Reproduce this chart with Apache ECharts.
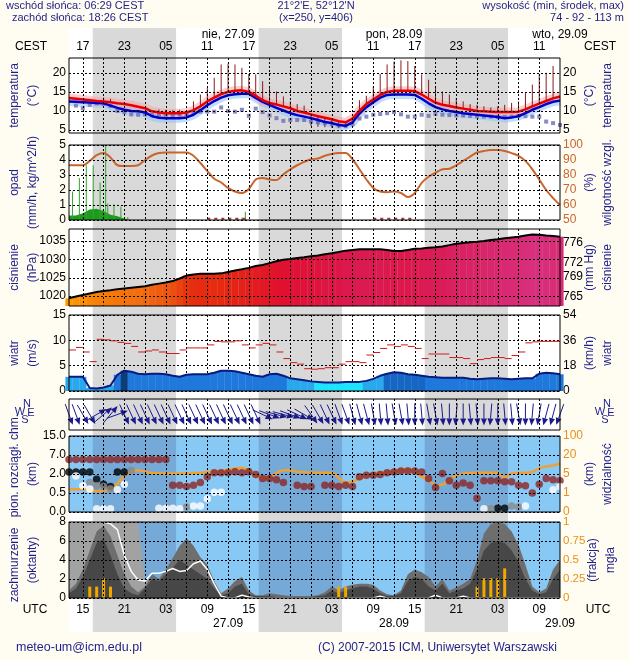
<!DOCTYPE html>
<html><head><meta charset="utf-8">
<script src="https://cdn.jsdelivr.net/npm/echarts@6/dist/echarts.min.js"></script>
<style>html,body{margin:0;padding:0;background:#FFFDF2;}#c{width:630px;height:660px;}</style>
</head><body><div id="c"></div>
<script>
// ---------------- DATA ----------------
const hours = [13,14,15,16,17,18,19,20,21,22,23,24,25,26,27,28,29,30,31,32,33,34,35,36,37,38,39,40,41,42,43,44,45,46,47,48,49,50,51,52,53,54,55,56,57,58,59,60,61,62,63,64,65,66,67,68,69,70,71,72,73,74,75,76,77,78,79,80,81,82,83,84];
const gridHours = [15,18,21,24,27,30,33,36,39,42,45,48,51,54,57,60,63,66,69,72,75,78,81];
const labelHours = [15,21,27,33,39,45,51,57,63,69,75,81];
const dateHours = [36,60,84];
const datesTop = ['nie, 27.09','pon, 28.09','wto, 29.09'];
const datesBottom = ['27.09','28.09','29.09'];
const sunriseCEST = 6 + 29/60, sunsetCEST = 18 + 26/60, cestOffset = 2;

const tempRed = [13.4,13.2,13.0,12.8,12.6,12.5,12.3,12.0,11.8,11.5,11.1,10.7, 9.9,9.6,9.4,9.4,9.4,9.6,10.2,11.2,12.5,13.5,14.4,15.0, 15.3,15.4,15.0,14.0,12.8,12.1,11.7,11.2,10.7,10.0,9.6,9.1, 8.6,8.2,7.8,7.3,7.0,8.0,10.0,11.8,13.0,14.2,15.0,15.3, 15.3,15.3,15.2,14.3,13.2,12.2,11.6,11.3,10.9,10.6,10.3,10.0, 9.9,9.8,9.7,9.7,9.7,9.8,10.4,11.2,11.9,12.6,13.3,13.8];
const tempBlue = [12.5,12.4,12.3,12.2,12.1,12.0,11.4,10.8,10.3,10.0,9.9,9.6, 8.6,8.2,8.1,8.1,8.1,8.3,9.0,10.2,11.5,12.6,13.5,14.1, 14.4,14.5,14.5,13.4,12.4,11.6,10.8,10.1,9.4,8.9,8.5,8.1, 7.6,7.1,6.8,6.3,6.1,7.0,9.3,11.0,12.3,13.5,14.2,14.3, 14.3,14.3,14.2,13.2,12.0,11.0,10.4,10.0,9.7,9.4,9.2,9.0, 8.8,8.6,8.4,8.1,8.3,8.6,9.4,10.3,11.0,11.8,12.4,12.7];
const dewPoint = [null,11.4,10.7,11.6,12.0,11.9,11.3,10.0,9.7,9.1,9.0,9.1, 9.0,9.0,9.0,8.8,9.0,9.1,9.7,9.8,9.8,9.8,10.9,10.0, 9.8,10.3,8.7,10.6,9.7,8.8,8.1,7.4,7.6,7.6,7.6,7.2, 7.0,6.8,6.6,6.2,6.0,6.5,8.0,8.5,9.0,9.2,9.4,9.7, 9.1,8.5,8.5,9.0,8.7,9.2,9.0,8.9,8.8,8.8,8.7,8.6, 8.5,8.5,8.4,8.4,8.5,8.7,8.6,8.5,8.5,7.2,6.8,6.3];
const stickHours = [18,19,26,27,28,29,31,32,33,34,35,36,37,38,39,40,41,42,43,44,45,46,47,48,49,50,51,52,53,55,56,57,58,59,60,61,62,63,64,65,66,67,68,69,70,71,72,73,74,75,76,77,78,79,80,81,82,83];
const stickLow  = [12.5,12.3,9.6,9.4,9.4,9.4,10.2,11.2,12.5,13.5,14.4,15.0,15.3,15.4,15.0,14.0,12.8,12.1,11.7,11.2,10.7,10.0,9.6,6.0,5.8,5.7,5.6,5.5,5.6,10.0,11.8,13.0,14.2,15.0,15.3,15.3,15.3,15.2,14.3,13.2,12.2,11.6,11.3,10.9,10.6,10.3,10.0,9.9,9.8,9.7,9.7,9.7,9.8,10.4,11.2,11.9,12.6,13.3];
const stickHigh = [13.5,13.2,10.4,10.3,10.2,10.3,12.5,14.3,16.0,18.7,22.2,22.4,22.2,21.3,19.7,19.6,17.8,16.0,15.1,13.8,12.5,11.8,11.4,9.1,8.6,8.2,7.8,7.3,7.0,12.8,14.0,16.5,19.7,22.2,23.0,23.3,23.1,21.8,19.6,18.2,16.5,15.1,14.3,13.4,12.5,11.8,11.6,11.2,10.9,11.2,11.6,12.1,12.5,14.7,16.9,19.6,20.0,21.8];

const humidity = [86.5,86.5,86.5,89.4,93.2,94.6,91.7,86.5,86,86,86.5,90, 93,94.6,95,95,95,95,92.8,88,82.6,77.5,75,71.4, 69,68,70.7,77,78,77,76.6,80.4,83.8,86.5,88.7,90.5, 91,92.8,94,94.6,94.6,90.5,83.8,77,71.4,69,68.5,69, 68,65.3,68,74.8,78.8,81.5,83.8,84.2,86.5,89.4,92.3,95, 96,96.6,96.6,96,94.6,92.8,89.4,83.8,77,70,64.6,60];
const precipMaxHours = [13.5,14.5,15.5,16.5,17.5,18.3,18.6,19.5,20.5,21.5,38.0,38.5];
const precipMax = [1.9,2.8,3.65,3.65,2.5,5.0,1.1,1.05,0.9,0.2,0.15,0.55];
const precipMeanHours = [13,14,15,16,17,18,19,20,21,22];
const precipMean = [0.3,0.3,0.45,0.7,0.75,0.6,0.35,0.25,0.1,0];
const traceHours = [33,38.5,null,57,63];
const traceValue = [0.08,0.08,null,0.08,0.08];

const pressure = [1019.4,1019.9,1020.3,1020.7,1021.1,1021.4,1021.6,1021.9,1022.1,1022.3,1022.5,1022.7, 1023.1,1023.4,1023.7,1024.1,1024.8,1025.6,1025.9,1026.1,1026.1,1026.1,1026.2,1026.6, 1027.0,1027.3,1027.7,1028.2,1028.5,1029.0,1029.5,1029.9,1030.1,1030.4,1030.6,1030.9, 1031.1,1031.4,1031.7,1032.0,1032.4,1032.6,1032.8,1032.8,1032.8,1032.8,1032.6,1032.3, 1032.3,1032.6,1032.9,1033.0,1033.2,1033.3,1033.5,1033.9,1034.3,1034.5,1034.7,1034.8, 1035.0,1035.3,1035.5,1035.8,1036.0,1036.2,1036.5,1036.8,1036.7,1036.5,1036.4,1036.2];
const pressureTicks = [1020,1025,1030,1035];
const mmHgTicks = [765,769,772,776];

const windSpeed = [2.8,2.8,2.8,0.6,0.5,0.7,1.1,3.2,4.0,3.8,3.4,3.3, 3.4,3.4,3.3,3.0,2.8,3.2,3.3,3.3,3.3,3.6,4.0,4.0, 3.9,3.6,3.3,3.0,2.8,3.3,3.4,3.0,2.5,2.3,2.1,1.9, 1.8,1.7,1.7,1.7,1.8,1.8,1.8,2.0,2.4,3.0,3.4,3.7, 3.6,3.3,3.2,3.0,2.8,2.7,2.6,2.6,2.6,2.6,2.4,2.3, 2.4,2.5,2.5,2.4,2.3,2.4,2.5,2.5,3.4,3.6,3.5,3.3];
const windClass = [0,0,0,0,0,0,0,1,3,1,1,1, 1,1,1,1,1,1,1,1,1,1,1,1, 1,1,1,1,1,1,1,1,0,0,0,0, 2,2,2,2,2,2,2,0,0,0,4,4, 4,4,4,4,1,1,1,1,1,1,1,1, 1,1,1,1,1,1,1,1,1,1,1,1];
const windGust = [8.1,8.6,7.7,5.8,10.2,10.1,9.9,9.6,9.4,8.8,7.7,7.9, 8.1,7.7,7.4,7.4,8.1,8.5,8.5,8.5,9.1,9.8,9.7,9.7, 9.9,9.1,8.5,9.1,9.4,9.1,7.7,6.4,5.6,5.3,4.4,4.3, 4.4,4.6,4.6,5.3,5.8,5.8,5.6,7.1,7.6,8.4,9.1,8.8, 9.1,8.8,8.4,6.4,7.3,7.3,7.3,6.6,6.6,6.4,5.4,6.2, 6.4,6.6,6.6,6.4,7.0,7.7,9.5,9.7,9.8,9.8,9.8,null];
const windDirFrom = [340,340,330,330,240,230,220,250, 335,335,335,335,335,335,335,335,335,335,335,335,335,335,335,335,335,335,335,335, 295,290,285,285,290,295,300, 325,330,335,335,340,340,345,345,345, 350,355,355,350,350,355,0,355,350,350,355,0,5,0,355,355,0,5,0,355,355,350,0,5,10,15,15,20];

const visTicks = [0,1,5,20,100];
const baseTicks = [0,0.5,2,7,15];
const visibility = [1.8,1.8,1.8,1.7,1.3,1.5,1.8,3.0,4.6,7.3,8.0,6.8, 5.8,5.45,5.45,5.45,5.45,5.45,5.8,6.0,6.5,6.8,7.3,8.3, 9.2,10,8,4.7,4.1,4.2,5.8,8,8,6.8,6.5,6, 6,6,6,4.2,3.2,3.4,4.0,4.5,5,6.5,6.5,7.3, 8.8,9.2,6.8,4.4,3.8,2.6,2.8,3.7,4.7,5.3,5.8,6, 6,6,6,4.2,5.45,5.8,6,6.5,9.5,11,11.8,13.3];
const cloudBase = [5.8,5.8,5.8,5.8,5.8,5.8,5.8,5.8,5.8,5.8,5.8,5.8,5.8,5.8,5.8, 1.12,1.12,1.01,1.12,1.33,1.79,2.35,2.35,2.35,2.6,2.35,2.6, 1.97,1.64,1.64,1.54,1.33,null,1.12,1.01,1.01,null,1.12,1.12, 1.01,1.12,1.01,1.79,1.9,1.9,1.97,2.35,2.5,2.8,2.8,2.8, 2.5,1.64,0.94,2.15,1.46,1.12,1.28,1.12,0.36,1.46,1.46,1.46, 1.39,1.39,1.12,1.07,0.5,1.2,1.64,1.54,1.46];
const lowBlackHours = [13,14,15,16,17,18,19,20,21,75,76];
const lowBlack = [2.5,2.5,2.5,2.5,1.58,1.2,1.01,2.5,2.5,0.1,0.1];
const lowGrayHours = [16,17,18,19,22,30,74,77,78];
const lowGray = [1.33,1.07,1.01,0.82,2.95,0.13,0.085,0.155,0.13];
const lowWhiteHours = [14,15,16,17,18,19,20,21,26,27,28,29,31,32,33,34,35,73,79,83,84];
const lowWhite = [1.85,1.07,0.82,0.085,0.085,0.085,0.76,1.2,0.1,0.1,0.1,0.085,0.155,0.155,0.35,0.55,0.55,0.085,0.155,0.76,1.01];

const cloudHigh = [8,8,8,8,8,8,8,8,8,8,8,2, 1,0,0,0,0,0,0,0,0,0,0,0, 0,0,0,0,0,0,0,0,0,0,0,0, 0,0,0,0,0,0,0,0,0,0,0,0, 0,0,0,0,0,0,0,0,0,0,0,0, 0,0,0,0,0,0,0,0,0,0,0,0];
const cloudMid = [0.8,1.5,3.0,5.0,7.0,7.6,6.5,4.5,2.5,1.2,0.6,1.2, 2.5,2.0,3.0,4.2,5.5,6.3,5.5,4.3,3.5,1.8,0.5,1.0, 1.8,2.2,0.8,0.3,0.3,0.5,0.4,0.3,0.2,0.2,0.2,0.2, 0.3,0.6,1.2,0.8,1.2,1.4,1.5,1.5,1.4,0.8,0.4,0.3, 0.8,2.5,3.0,2.7,2.2,1.2,2.0,0.8,1.1,1.5,2.0,4.0, 6.8,7.8,8.0,7.8,7.0,5.6,3.5,1.2,0.6,1.0,3.0,4.0];
const cloudLow = [0.5,1.0,2.2,4.0,5.8,6.2,4.5,2.5,1.0,0.5,0.3,1.0, 2.0,1.8,2.5,3.2,4.0,3.5,3.0,2.5,2.0,1.0,0.3,0.5, 1.2,1.5,0.4,0.2,0.2,0.2,0.1,0.1,0.1,0.1,0.1,0.1, 0.2,0.3,0.8,0.5,0.8,1.0,1.2,1.2,1.0,0.5,0.2,0.2, 0.5,1.8,2.2,2.0,1.2,0.8,1.5,0.5,0.8,1.0,1.5,3.0, 5.0,5.8,6.0,5.8,5.0,3.8,2.0,0.8,0.4,0.6,2.0,3.0];
const cloudLine = [8,8,8,8,8,8,7.8,7.2,4.5,2.8,1.9,1.8, 2.6,2.6,2.8,3.1,2.8,2.9,3.6,3.9,3.0,1.5,0.2,0, 0,0.3,0.1,0,0,0,0,0,0,0,0,0, 0,0,0,0,0,0,0,0,0,0.2,0,0, 0,0,0,0,0,0.3,0,0,0,0.2,0,0, 0,0,0,0,0,0,0,0,0,0,0,0];
const fogHours = [16,17,18,19,52,53,72,73,74,75,76];
const fogFrac = [0.15,0.15,0.26,0.15,0.15,0.15,0.15,0.26,0.26,0.26,0.39];

// ---------------- CHART ----------------
const FONT = "'Liberation Sans', Arial, sans-serif";
const NAVY = '#1E1E8C';
const DOT = {color:'#000', type:[2,2], width:1};
const T0 = 13, T1 = 84;
const X = 69, W = 491;
const nights = [0,1,2].map(k => [sunsetCEST - cestOffset + 24*k, sunriseCEST - cestOffset + 24*(k+1)]);
const pad = n => { n = ((Math.round(n)%24)+24)%24; return (n<10?'0':'')+n; };
const zip = (a,b) => a.map((v,i)=>[v,b[i]]);
const H = arr => hours.map((h,i)=>[h, arr[i]]);
function toLevel(v, ticks){
  if (v == null) return null;
  for (let i=1;i<ticks.length;i++){ if (v <= ticks[i]) return (i-1) + (v-ticks[i-1])/(ticks[i]-ticks[i-1]); }
  return ticks.length-1;
}

const panels = [
  {top:58, h:75}, {top:145, h:75}, {top:229, h:77}, {top:315, h:76},
  {top:399, h:31}, {top:436, h:76}, {top:522, h:76}
];
const grids = [{left:X, top:28, width:W, height:604, show:true, backgroundColor:'#fff', borderWidth:0, z:0, outerBoundsMode:'none', containLabel:false}];
panels.forEach(p => grids.push({left:X, top:p.top, width:W, height:p.h, show:true, backgroundColor:'transparent', borderColor:'#000', borderWidth:1, z:20, outerBoundsMode:'none', containLabel:false}));

function mkX(grid, extra){
  return Object.assign({gridIndex:grid, type:'value', min:T0, max:T1, axisLine:{show:false},
    axisTick:{show:false, customValues:gridHours}, axisLabel:{show:false},
    splitLine:{show:true, lineStyle:DOT}, z:9}, extra||{});
}
const lbl = (o) => Object.assign({color:'#000', fontSize:12, fontFamily:FONT}, o);
const xAxes = [{gridIndex:0, type:'value', min:T0, max:T1, show:false}];
for (let g=1; g<=7; g++){
  const ax = mkX(g, g===4 ? {z:2} : {});
  if (g===1){ ax.position='top'; ax.axisLabel = lbl({show:true, customValues:labelHours, formatter:v=>pad(v+cestOffset), margin:5}); }
  if (g===7){ ax.position='bottom'; ax.axisLabel = lbl({show:true, customValues:labelHours, formatter:v=>pad(v), margin:6}); }
  xAxes.push(ax);
}
xAxes.push({gridIndex:1, type:'value', min:T0, max:T1, position:'top', offset:12, axisLine:{show:false}, axisTick:{show:false, customValues:dateHours}, splitLine:{show:false},
  axisLabel:lbl({customValues:dateHours, formatter:(v)=>datesTop[dateHours.indexOf(v)], margin:5})});
xAxes.push({gridIndex:7, type:'value', min:T0, max:T1, position:'bottom', offset:14, axisLine:{show:false}, axisTick:{show:false, customValues:dateHours}, splitLine:{show:false},
  axisLabel:lbl({customValues:dateHours, formatter:(v)=>datesBottom[dateHours.indexOf(v)], margin:6})});

const yAxes = [{gridIndex:0, min:0, max:1, show:false}];
function mkY(grid, pos, min, max, ticks, o){
  o = o||{};
  yAxes.push({gridIndex:grid, type:'value', position:pos, min, max, axisLine:{show:false},
    axisTick:{show:false, customValues:ticks},
    axisLabel:lbl({show:!o.noLabel, customValues:ticks, formatter:o.fmt || (v=>String(v)), color:o.color||'#000', margin:3, fontSize:o.fs||12}),
    splitLine:{show:!!o.split, lineStyle:DOT},
    name:o.name||'', nameLocation:'middle', nameRotate:90, nameGap: o.gap || (pos==='left'?27:21), nameMoveOverlap:false,
    nameTextStyle:{color:NAVY, fontSize:12, fontFamily:FONT, lineHeight:18},
    z:o.z!=null?o.z:9});
  return yAxes.length-1;
}
const yT = mkY(1,'left',4.2,23.9,[5,10,15,20],{split:true,name:'temperatura\n(°C)'});
mkY(1,'right',4.2,23.9,[5,10,15,20],{name:'(°C)\ntemperatura'});
const yP = mkY(2,'left',0,5,[0,1,2,3,4,5],{split:true,name:'opad\n(mm/h, kg/m^2/h)'});
const yHum = mkY(2,'right',50,100,[50,60,70,80,90,100],{color:'#C8642D',name:'(%)\nwilgotność wzgl.'});
const yPr = mkY(3,'left',1017.3,1038.3,pressureTicks,{split:true,name:'ciśnienie\n(hPa)'});
mkY(3,'right',1017.3,1038.3,mmHgTicks.map(m=>m/0.750062),{fmt:v=>String(Math.round(v*0.750062)),name:'(mm Hg)\nciśnienie'});
const yW = mkY(4,'left',0,15,[0,5,10,15],{split:true,name:'wiatr\n(m/s)',z:2});
mkY(4,'right',0,15,[0,5,10,15],{fmt:v=>String(Math.round(v*3.6)),name:'(km/h)\nwiatr',z:2});
const yD = mkY(5,'left',0,1,[],{noLabel:true});
mkY(5,'right',0,1,[],{noLabel:true});
const yV = mkY(6,'left',0,4,[0,1,2,3,4],{split:true,fmt:v=>baseTicks[v].toFixed(1),name:'     pion. rozciągł. chm.\n(km)'});
mkY(6,'right',0,4,[0,1,2,3,4],{fmt:v=>String(visTicks[v]),color:'#E8901A',name:'(km)\nwidzialność'});
const yC = mkY(7,'left',0,8,[0,2,4,6,8],{split:true,name:'zachmurzenie   \n(oktanty)'});
const yFog = mkY(7,'right',0,1,[0,0.25,0.5,0.75,1],{color:'#E8901A',fs:11.5,gap:24,name:'(frakcja)\nmgła'});

// series
const series = [];
function add(s){ series.push(s); return series.length-1; }
function bandSeries(xi, yi, data, colors, z){
  return {type:'custom', xAxisIndex:xi, yAxisIndex:yi, z, silent:true, clip:true, data,
    renderItem:(params, api)=>{
      const a = api.coord([api.value(0),0]), b = api.coord([api.value(1),0]);
      const cs = params.coordSys;
      return {type:'rect', shape:{x:a[0], y:cs.y, width:b[0]-a[0], height:cs.height}, style:{fill:colors[api.value(2)]}};
    }};
}
add(bandSeries(0,0,nights.map(n=>[n[0],n[1],0]),['#D9D9D9'],1));
const blueBg = [[T0,T1,0]].concat(nights.map(n=>[n[0],n[1],1]));
add(bandSeries(6,yV,blueBg,['#88C8F4','#74A9D8'],2));
add(bandSeries(7,yC,blueBg,['#88C8F4','#74A9D8'],2));

// temperature
add({type:'line', xAxisIndex:1, yAxisIndex:yT, data:H(tempBlue), symbol:'none', lineStyle:{color:'rgba(140,195,255,0.55)', width:9}, z:3});
add({type:'line', xAxisIndex:1, yAxisIndex:yT, data:H(tempRed), symbol:'none', lineStyle:{color:'rgba(255,160,160,0.5)', width:9}, z:3});
add({type:'custom', xAxisIndex:1, yAxisIndex:yT, z:4, data:stickHours.map((h,i)=>[h,stickLow[i],stickHigh[i]]),
  encode:{x:0,y:[1,2]},
  renderItem:(params, api)=>{ const a=api.coord([api.value(0),api.value(1)]), b=api.coord([api.value(0),api.value(2)]);
    return {type:'line', shape:{x1:a[0],y1:a[1],x2:b[0],y2:b[1]}, style:{stroke:'#8B1A1A', lineWidth:1}}; }});
add({type:'scatter', xAxisIndex:1, yAxisIndex:yT, data:H(dewPoint), symbol:'rect', symbolSize:4, itemStyle:{color:'#6B6BB5'}, z:5});
add({type:'line', xAxisIndex:1, yAxisIndex:yT, data:H(tempBlue), symbol:'none', lineStyle:{color:'#0000CC', width:2.5}, z:6});
add({type:'line', xAxisIndex:1, yAxisIndex:yT, data:H(tempRed), symbol:'none', lineStyle:{color:'#E80000', width:2.5}, z:6});

// precipitation & humidity
add({type:'line', xAxisIndex:2, yAxisIndex:yP, data:zip(precipMeanHours,precipMean), symbol:'none', lineStyle:{width:0}, areaStyle:{color:'#1E9A1E', opacity:1}, z:3});
add({type:'bar', xAxisIndex:2, yAxisIndex:yP, data:zip(precipMaxHours,precipMax), barWidth:1, itemStyle:{color:'#2EA82E'}, z:4});
add({type:'line', xAxisIndex:2, yAxisIndex:yP, data:zip(traceHours,traceValue), symbol:'none', connectNulls:false, lineStyle:{color:'#B03030', width:2, type:[3,4]}, z:4});
add({type:'line', xAxisIndex:2, yAxisIndex:yHum, data:H(humidity), symbol:'none', smooth:0.3, lineStyle:{color:'#C8642D', width:2}, z:5});

// pressure
const presBarIdx = add({type:'bar', xAxisIndex:3, yAxisIndex:yPr, data:H(pressure), barWidth:7.2, z:3});
add({type:'line', xAxisIndex:3, yAxisIndex:yPr, data:H(pressure), symbol:'none', lineStyle:{color:'#000', width:2}, z:4});

// wind
const windColors = ['#2AA8EE','#1F78DC','#1CE4FF','#0E3C78','#1666C4'];
add({type:'bar', xAxisIndex:4, yAxisIndex:yW, barWidth:7.2, z:3,
  data:hours.map((h,i)=>({value:[h,windSpeed[i]], itemStyle:{color:windColors[windClass[i]]}}))});
add({type:'line', xAxisIndex:4, yAxisIndex:yW, data:H(windSpeed), symbol:'none', lineStyle:{color:'#0A1A80', width:2}, z:4});
add({type:'custom', xAxisIndex:4, yAxisIndex:yW, z:5, data:H(windGust).filter(d=>d[1]!=null),
  renderItem:(params, api)=>{ const a=api.coord([api.value(0),api.value(1)]), b=api.coord([api.value(0)+1,api.value(1)]);
    return {type:'line', shape:{x1:a[0],y1:a[1],x2:b[0],y2:b[1]}, style:{stroke:'#D01818', lineWidth:1}}; }});

// wind direction
add({type:'custom', xAxisIndex:5, yAxisIndex:yD, z:5, data:H(windDirFrom),
  renderItem:(params, api)=>{
    const c = api.coord([api.value(0), 0.5]);
    const to = (api.value(1)+180)*Math.PI/180;
    const dx = Math.sin(to), dy = -Math.cos(to);
    const len = 22, hl = 7, hw = 3;
    const x1=c[0]-dx*len/2, y1=c[1]-dy*len/2, x2=c[0]+dx*len/2, y2=c[1]+dy*len/2;
    const bx=x2-dx*hl, by=y2-dy*hl;
    return {type:'group', children:[
      {type:'line', shape:{x1,y1,x2:bx,y2:by}, style:{stroke:'#1A1A8C', lineWidth:1}},
      {type:'polygon', shape:{points:[[x2,y2],[bx-dy*hw,by+dx*hw],[bx+dy*hw,by-dx*hw]]}, style:{fill:'#1A1A8C'}}
    ]};
  }});

// visibility & cloud base
add({type:'line', xAxisIndex:6, yAxisIndex:yV, data:hours.map((h,i)=>[h,toLevel(visibility[i],visTicks)]), symbol:'none', smooth:0.3, lineStyle:{color:'#F0A030', width:2.5}, z:4});
add({type:'scatter', xAxisIndex:6, yAxisIndex:yV, data:hours.map((h,i)=>[h,toLevel(cloudBase[i],baseTicks)]), symbolSize:7.5, itemStyle:{color:'#8E2424'}, z:5});
add({type:'scatter', xAxisIndex:6, yAxisIndex:yV, data:lowBlackHours.map((h,i)=>[h,toLevel(lowBlack[i],baseTicks)]), symbolSize:7.5, itemStyle:{color:'#000'}, z:5});
add({type:'scatter', xAxisIndex:6, yAxisIndex:yV, data:lowGrayHours.map((h,i)=>[h,toLevel(lowGray[i],baseTicks)]), symbolSize:7.5, itemStyle:{color:'#8A8A8A'}, z:5});
add({type:'scatter', xAxisIndex:6, yAxisIndex:yV, data:lowWhiteHours.map((h,i)=>[h,toLevel(lowWhite[i],baseTicks)]), symbolSize:7.5, itemStyle:{color:'#FFFFFF'}, z:5});

// cloud cover
add({type:'line', xAxisIndex:7, yAxisIndex:yC, data:H(cloudHigh), symbol:'none', lineStyle:{width:0}, areaStyle:{color:'#A2A2A2', opacity:1}, z:3});
add({type:'line', xAxisIndex:7, yAxisIndex:yC, data:H(cloudMid), symbol:'none', lineStyle:{width:0}, areaStyle:{color:'#6E6E6E', opacity:1}, z:3});
add({type:'line', xAxisIndex:7, yAxisIndex:yC, data:H(cloudLow), symbol:'none', lineStyle:{width:0}, areaStyle:{color:'#474747', opacity:1}, z:3});
add({type:'line', xAxisIndex:7, yAxisIndex:yC, data:H(cloudLine), symbol:'none', lineStyle:{color:'#FFFFFF', width:1.5}, z:4});
add({type:'bar', xAxisIndex:7, yAxisIndex:yFog, data:zip(fogHours,fogFrac), barWidth:3, itemStyle:{color:'#F0A800'}, z:5});

// texts
const txt = (x,y,s,o) => ({type:'text', x, y, style:Object.assign({text:s, fill:NAVY, font:'12px '+FONT}, o||{})});
function compass(cx, cy){
  const f = {font:'11px '+FONT,align:'center',verticalAlign:'middle'};
  return [txt(cx+3,cy-9,'N',f), txt(cx-4,cy-1,'W',f), txt(cx+7,cy,'E',f), txt(cx+1,cy+7,'S',f)];
}
const H11 = '11px '+FONT;
const graphic = [
  txt(6,6,'wschód słońca: 06:29 CEST',{verticalAlign:'middle',font:H11}),
  txt(12,18,'zachód słońca: 18:26 CEST',{verticalAlign:'middle',font:H11}),
  txt(316,6,"21°2'E, 52°12'N",{align:'center',verticalAlign:'middle',font:H11}),
  txt(316,18,'(x=250, y=406)',{align:'center',verticalAlign:'middle',font:H11}),
  txt(624,6,'wysokość (min, środek, max)',{align:'right',verticalAlign:'middle',font:H11}),
  txt(587,18,'74 - 92 - 113 m',{align:'center',verticalAlign:'middle',font:H11}),
  txt(31,47,'CEST',{align:'center',verticalAlign:'middle',fill:'#000'}),
  txt(600,47,'CEST',{align:'center',verticalAlign:'middle',fill:'#000'}),
  txt(35,610,'UTC',{align:'center',verticalAlign:'middle',fill:'#000'}),
  txt(598,610,'UTC',{align:'center',verticalAlign:'middle',fill:'#000'}),
  txt(16,648,'meteo-um@icm.edu.pl',{verticalAlign:'middle',font:'12.5px '+FONT}),
  txt(318,648,'(C) 2007-2015 ICM, Uniwersytet Warszawski',{verticalAlign:'middle'})
].concat(compass(24,413), compass(604,413));

const chart = echarts.init(document.getElementById('c'), null, {renderer:'canvas'});
chart.setOption({
  backgroundColor:'#FFFDF2', animation:false,
  textStyle:{fontFamily:FONT},
  grid:grids, xAxis:xAxes, yAxis:yAxes, series,
  visualMap:[{type:'continuous', show:false, seriesIndex:presBarIdx, dimension:1, min:1019, max:1037,
    inRange:{color:['#FFA000','#F26A10','#E52A10','#E01030','#DA1C58','#D83080']}}],
  graphic
});
</script></body></html>
